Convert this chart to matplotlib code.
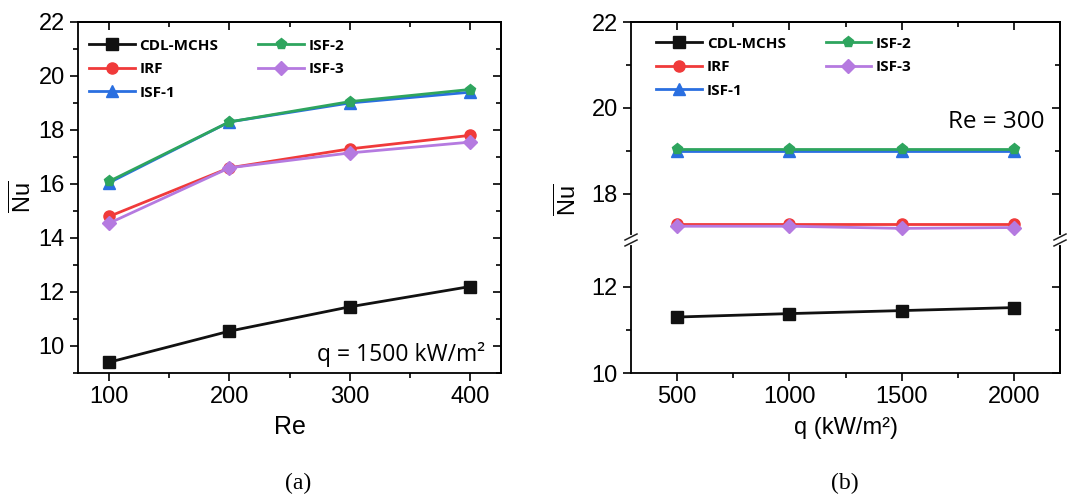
import numpy as np
import matplotlib
matplotlib.use('Agg')
import matplotlib.pyplot as plt
from matplotlib.ticker import FixedLocator, MultipleLocator

plt.rcParams['font.family'] = ['Liberation Sans', 'DejaVu Sans']
plt.rcParams['mathtext.fontset'] = 'custom'
plt.rcParams['mathtext.rm'] = 'Liberation Sans'
plt.rcParams['mathtext.default'] = 'regular'

# data
names = ['CDL-MCHS', 'IRF', 'ISF-1', 'ISF-2', 'ISF-3']
colors = ['#111111', '#f03a3a', '#2a6fe0', '#2ea55e', '#b57ae0']
markers = ['s', 'o', '^', 'p', 'D']

re_vals = [100, 200, 300, 400]
nu_re_cdl = [9.4, 10.55, 11.45, 12.2]
nu_re_irf = [14.8, 16.6, 17.3, 17.8]
nu_re_isf1 = [16.05, 18.3, 19.0, 19.4]
nu_re_isf2 = [16.1, 18.3, 19.05, 19.5]
nu_re_isf3 = [14.55, 16.6, 17.15, 17.55]

q_vals = [500, 1000, 1500, 2000]
nu_q_cdl = [11.3, 11.38, 11.45, 11.52]
nu_q_irf = [17.3, 17.3, 17.3, 17.3]
nu_q_isf1 = [19.0, 19.0, 19.0, 19.0]
nu_q_isf2 = [19.05, 19.05, 19.05, 19.05]
nu_q_isf3 = [17.25, 17.25, 17.2, 17.22]

series_re = [nu_re_cdl, nu_re_irf, nu_re_isf1, nu_re_isf2, nu_re_isf3]
series_q = [nu_q_cdl, nu_q_irf, nu_q_isf1, nu_q_isf2, nu_q_isf3]

W, H = 1072, 496
fig = plt.figure(figsize=(W / 100, H / 100), dpi=100)

def box(x0, y0, x1, y1):
    return [x0 / W, 1 - y1 / H, (x1 - x0) / W, (y1 - y0) / H]

TICK = 17
OPEN = ['Open Sans', 'DejaVu Sans']
LEG_FONT = dict(family=OPEN, weight='bold', size=11)
LEG_KW = dict(ncol=2, frameon=False, prop=LEG_FONT, handlelength=3.0,
              columnspacing=2.6, handletextpad=0.3, labelspacing=0.62,
              borderaxespad=0.0, loc='upper left')


def style(ax, left=True, bottom=True):
    for s in ax.spines.values():
        s.set_linewidth(1.3)
    ax.tick_params(which='both', direction='out', width=1.2, labelsize=TICK,
                   top=False, right=False, left=left, bottom=bottom,
                   labelleft=left, labelbottom=bottom)
    ax.tick_params(which='major', length=6)
    ax.tick_params(which='minor', length=3.5)


def mirror_y(ax, ymaj, ymin):
    r = ax.secondary_yaxis('right')
    r.set_yticks(ymaj)
    r.yaxis.set_minor_locator(FixedLocator(ymin))
    r.tick_params(which='both', direction='in', labelright=False, width=1.2)
    r.tick_params(which='major', length=6)
    r.tick_params(which='minor', length=3.5)
    r.spines['right'].set_linewidth(1.3)


def mirror_x(ax, xmaj, xmin):
    t = ax.secondary_xaxis('top')
    t.set_xticks(xmaj)
    t.xaxis.set_minor_locator(FixedLocator(xmin))
    t.tick_params(which='both', direction='in', labeltop=False, width=1.2)
    t.tick_params(which='major', length=6)
    t.tick_params(which='minor', length=3.5)
    t.spines['top'].set_linewidth(1.3)


def draw(ax, x, ys):
    for name, c, m, y in zip(names, colors, markers, ys):
        ms = 8 if m != 'D' else 7
        ax.plot(x, y, color=c, marker=m, ms=ms, lw=2.0, label=name)


# ---- panel (a)
ax1 = fig.add_axes(box(78, 22, 501, 373))
draw(ax1, re_vals, series_re)
ax1.set_xlim(74, 426)
ax1.set_ylim(9, 22)
ax1.set_xticks(re_vals)
ax1.set_yticks([10, 12, 14, 16, 18, 20, 22])
ax1.xaxis.set_minor_locator(MultipleLocator(50))
ax1.yaxis.set_minor_locator(MultipleLocator(1))
style(ax1)
mirror_x(ax1, re_vals, [150, 250, 350])
mirror_y(ax1, [10, 12, 14, 16, 18, 20, 22], [9, 11, 13, 15, 17, 19, 21])
ax1.set_xlabel('Re', fontsize=18, labelpad=5)
ax1.text(0.962, 0.052, 'q = 1500 kW/m²', transform=ax1.transAxes,
         ha='right', va='center', fontsize=16.5, family=OPEN)
ax1.legend(bbox_to_anchor=(0.012, 0.97), **LEG_KW)
fig.text(23 / W, 1 - 197 / H, r'$\overline{\mathrm{Nu}}$', rotation=90,
         ha='center', va='center', fontsize=17)

# ---- panel (b), broken y axis
y_break = 240
ax_top = fig.add_axes(box(631, 22, 1060, y_break))
ax_bot = fig.add_axes(box(631, y_break, 1060, 373))
for a in (ax_top, ax_bot):
    draw(a, q_vals, series_q)
    a.set_xlim(295, 2205)
    a.set_xticks(q_vals)
    a.xaxis.set_minor_locator(MultipleLocator(250))
ax_top.set_ylim(16.93, 22)
ax_bot.set_ylim(10, 13.09)
ax_top.set_yticks([18, 20, 22])
ax_top.yaxis.set_minor_locator(FixedLocator([19, 21]))
ax_bot.set_yticks([10, 12])
ax_bot.yaxis.set_minor_locator(FixedLocator([11]))
style(ax_top, bottom=False)
style(ax_bot)
ax_top.spines['bottom'].set_visible(False)
ax_bot.spines['top'].set_visible(False)
mirror_x(ax_top, q_vals, [750, 1250, 1750])
mirror_y(ax_top, [18, 20, 22], [19, 21])
mirror_y(ax_bot, [10, 12], [11])

# break marks
for x0 in (631, 1060):
    fig.add_artist(plt.Line2D([x0 / W, x0 / W],
                              [1 - (y_break - 3) / H, 1 - (y_break + 3) / H],
                              color='white', lw=3))
    for dy in (-3, 3):
        yc = y_break + dy
        fig.add_artist(plt.Line2D([(x0 - 6) / W, (x0 + 6) / W],
                                  [1 - (yc + 3) / H, 1 - (yc - 3) / H],
                                  color='#222222', lw=1.1))

ax_bot.set_xlabel('q (kW/m²)', fontsize=17, labelpad=6)
ax_top.text(0.965, 0.54, 'Re = 300', transform=ax_top.transAxes,
            ha='right', va='center', fontsize=17.5, family=OPEN)
ax_top.legend(bbox_to_anchor=(0.045, 0.96), **LEG_KW)
fig.text(568 / W, 1 - 200 / H, r'$\overline{\mathrm{Nu}}$', rotation=90,
         ha='center', va='center', fontsize=17)

# captions
SERIF = ['Liberation Serif', 'DejaVu Serif']
fig.text(298 / W, 1 - 483 / H, '(a)', ha='center', va='center', fontsize=17,
         family=SERIF)
fig.text(845 / W, 1 - 483 / H, '(b)', ha='center', va='center', fontsize=17,
         family=SERIF)

fig.savefig('out.png', dpi=100)
